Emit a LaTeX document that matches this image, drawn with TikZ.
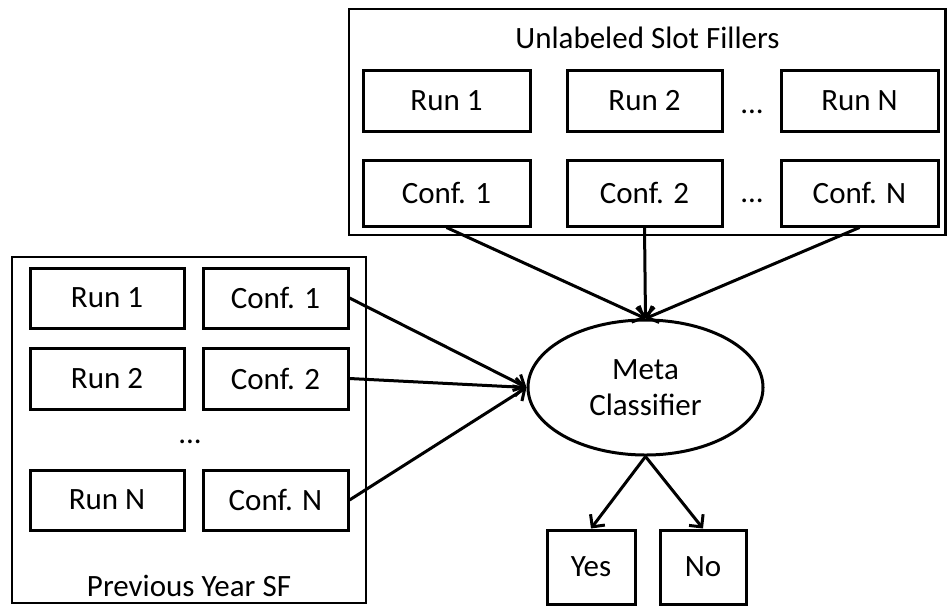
\documentclass[tikz,border=0pt]{standalone}
\usepackage{fontspec}
\setmainfont{Carlito}
\usetikzlibrary{arrows.meta,shapes.geometric}

\begin{document}
\begin{tikzpicture}[
  x=1pt, y=-1pt,
  font=\fontsize{31}{36}\selectfont,
  cell/.style={draw, line width=3pt, rectangle, inner sep=0pt, minimum height=61pt},
  group/.style={draw, line width=2.6pt},
  link/.style={line width=3pt, -{Straight Barb[length=9pt,width=18pt,line width=3pt]}},
  gap/.style={inner sep=0pt, anchor=base}
]
\useasboundingbox (0,0) rectangle (947,606);

% container of the unlabeled runs
\draw[group] (349,9) rectangle (945.5,235);
\node[gap] (toptitle) at (647.5,48) {Unlabeled Slot Fillers};

\node[cell, minimum width=167pt] (tr1) at (446.5,100.5) {Run 1};
\node[cell, minimum width=155pt] (tr2) at (644.5,100.5) {Run 2};
\node[cell, minimum width=157pt] (trn) at (859.5,100.5) {Run N};
\node[gap] (tdots1) at (752,113) {...};

\node[cell, minimum width=167pt, minimum height=66pt] (tc1) at (446.5,193) {Conf. 1};
\node[cell, minimum width=155pt, minimum height=66pt] (tc2) at (644.5,193) {Conf. 2};
\node[cell, minimum width=157pt, minimum height=66pt] (tcn) at (859.5,193) {Conf. N};
\node[gap] (tdots2) at (752,202) {...};

% container of last year's runs
\draw[group] (12,257) rectangle (366,603);
\node[gap] (lefttitle) at (189,596) {Previous Year SF};

\node[cell, minimum width=154pt, minimum height=60pt] (lr1) at (107,298) {Run 1};
\node[cell, minimum width=145pt, minimum height=60pt] (lc1) at (275.5,298) {Conf. 1};
\node[cell, minimum width=154pt] (lr2) at (107,378.5) {Run 2};
\node[cell, minimum width=145pt] (lc2) at (275.5,378.5) {Conf. 2};
\node[gap] (ldots) at (190,443) {...};
\node[cell, minimum width=154pt, minimum height=60pt] (lrn) at (107,500) {Run N};
\node[cell, minimum width=145pt, minimum height=60pt] (lcn) at (275.5,500) {Conf. N};

% meta classifier and its outcomes
\node[draw, ellipse, line width=3pt, inner sep=0pt, minimum width=235pt, minimum height=135pt, align=center] (meta) at (645.5,387.5) {Meta\\Classifier};

\node[cell, minimum width=88pt, minimum height=74pt] (yes) at (591,567) {Yes};
\node[cell, minimum width=86pt, minimum height=74pt] (no) at (703,567) {No};

% connectors
\draw[link] (tc1.south) -- (meta.north);
\draw[link] (tc2.south) -- (meta.north);
\draw[link] (tcn.south) -- (meta.north);

\draw[link] (lc1.east) -- (meta.west);
\draw[link] (lc2.east) -- (meta.west);
\draw[link] (lcn.east) -- (meta.west);

\draw[link] (meta.south) -- (yes.north);
\draw[link] (meta.south) -- (no.north);
\end{tikzpicture}
\end{document}
